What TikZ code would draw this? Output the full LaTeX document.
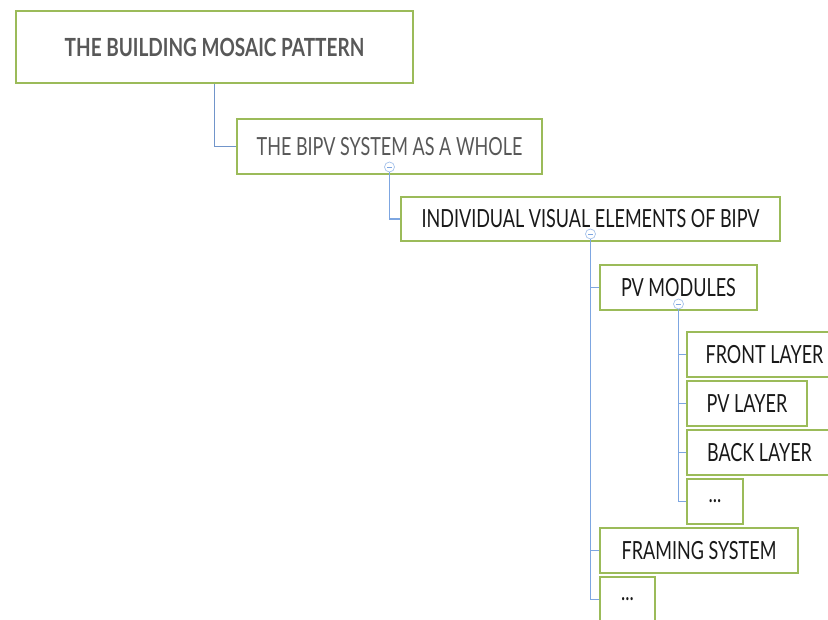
\documentclass[tikz,border=0pt]{standalone}
\usepackage{fontspec}
\setmainfont[FakeStretch=0.72]{Lato}
\newfontfamily\titlefont[FakeStretch=0.76]{Lato}
\definecolor{boxgreen}{RGB}{155,187,89}
\definecolor{linkblue}{RGB}{125,166,225}
\definecolor{txtgray}{RGB}{88,88,88}
\begin{document}
\begin{tikzpicture}[x=1pt,y=-1pt,
	box/.style={draw=boxgreen, line width=2pt, minimum height=45, inner sep=0pt, font=\fontsize{25}{25}\selectfont, text=black!90},
	link/.style={draw=linkblue, line width=1.6pt},
	fold/.style={circle, draw=linkblue!70, fill=white, line width=0.7pt, minimum size=10, inner sep=0pt,
		path picture={\draw[linkblue, line width=0.9pt] ([xshift=-2.5pt]path picture bounding box.center) -- ([xshift=2.5pt]path picture bounding box.center);}}]
	\clip (0,0) rectangle (828,619);
	\node[box, anchor=north west, minimum width=397, minimum height=72, text=txtgray, font=\fontsize{25}{25}\titlefont\bfseries] (pattern) at (15,10) {THE BUILDING MOSAIC PATTERN};
	\node[box, anchor=north west, minimum width=305, minimum height=55, text=txtgray] (whole) at (236,118) {THE BIPV SYSTEM AS A WHOLE};
	\node[box, anchor=north west, minimum width=379, minimum height=44] (elements) at (400,196) {INDIVIDUAL VISUAL ELEMENTS OF BIPV};
	\node[box, anchor=north west, minimum width=157] (modules) at (599,264) {PV MODULES};
	\node[box, anchor=north west, minimum width=155] (front) at (686,331) {FRONT LAYER};
	\node[box, anchor=north west, minimum width=120] (pvlayer) at (686,380) {PV LAYER};
	\node[box, anchor=north west, minimum width=145] (back) at (686,429) {BACK LAYER};
	\node[box, anchor=north west, minimum width=56] (more1) at (686,478) {...};
	\node[box, anchor=north west, minimum width=198] (framing) at (599,527) {FRAMING SYSTEM};
	\node[box, anchor=north west, minimum width=55] (more2) at (599,576) {...};

	% connectors
	\draw[link, draw=linkblue!90!black] (pattern.south) |- (whole.west);
	\node[fold] (f1) at ([yshift=8]whole.south) {};
	\draw[link] (f1.south) |- (elements.west);
	\node[fold] (f2) at ([yshift=8]elements.south) {};
	\foreach \n in {modules,framing,more2}
		\draw[link] (f2.south) |- (\n.west);
	\node[fold] (f3) at ([yshift=7]modules.south) {};
	\foreach \n in {front,pvlayer,back,more1}
		\draw[link] (f3.south) |- (\n.west);
\end{tikzpicture}
\end{document}
